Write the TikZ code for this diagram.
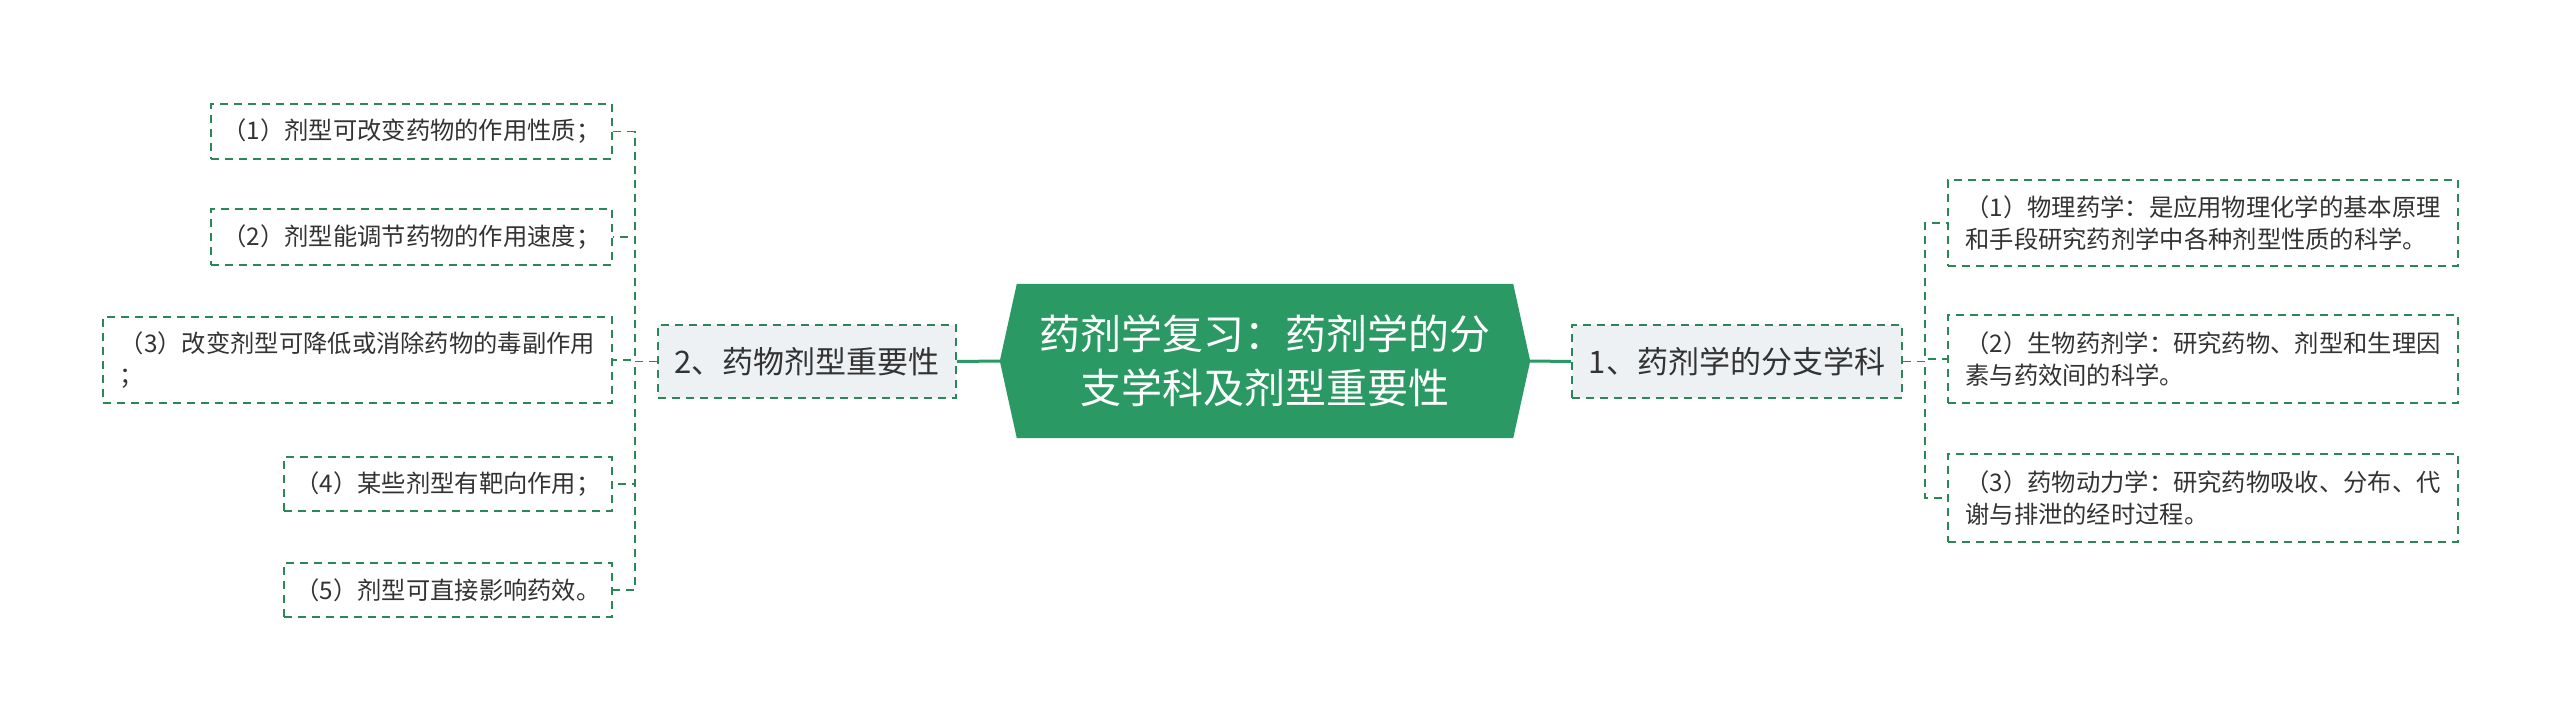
\documentclass[tikz,border=0pt]{standalone}
\usepackage{fontspec}
\setmainfont{Noto Sans CJK SC}
\usetikzlibrary{calc,backgrounds}
\definecolor{mgreen}{HTML}{2B9963}
\definecolor{lgreen}{HTML}{2B8757}
\definecolor{nodefill}{HTML}{EEF1F4}
\definecolor{txt}{HTML}{333333}
\begin{document}
\begin{tikzpicture}[x=1pt,y=-1pt,
  leaf/.style={draw=lgreen, line width=1.7pt, dash pattern=on 8pt off 6pt, text=txt,
    font=\fontsize{24.3}{32}\selectfont, inner sep=0pt, align=left},
  sub/.style={leaf, fill=nodefill, font=\fontsize{31}{36}\selectfont},
  link/.style={draw=lgreen, line width=1.7pt, dash pattern=on 8pt off 6pt},
  mainlink/.style={draw=mgreen, line width=3pt},
  centre/.style={text=white, font=\fontsize{41}{54}\selectfont, align=center,
    minimum width=530pt, minimum height=154pt, inner sep=0pt}]

\useasboundingbox (0,0) rectangle (2560,723);

% central topic
\node[centre] (c) at (1265,361) {药剂学复习：药剂学的分\\支学科及剂型重要性};
\begin{scope}[on background layer]
  \fill[white] (0,0) rectangle (2560,723);
  \fill[mgreen] (c.west) -- ($(c.north west)+(17,0)$) -- ($(c.north east)+(-17,0)$)
    -- (c.east) -- ($(c.south east)+(-17,0)$) -- ($(c.south west)+(17,0)$) -- cycle;
\end{scope}

% main branches
\node[sub, minimum width=330pt, minimum height=73pt] (r) at (1737,361.5) {1、药剂学的分支学科};
\node[sub, minimum width=298pt, minimum height=73pt] (l) at (807,361.5) {2、药物剂型重要性};

% right leaves
\node[leaf, minimum width=510pt, minimum height=86pt] (r1) at (2203,223)
  {（1）物理药学：是应用物理化学的基本原理\\和手段研究药剂学中各种剂型性质的科学。};
\node[leaf, minimum width=510pt, minimum height=88pt] (r2) at (2203,359)
  {（2）生物药剂学：研究药物、剂型和生理因\\素与药效间的科学。};
\node[leaf, minimum width=510pt, minimum height=88pt] (r3) at (2203,498)
  {（3）药物动力学：研究药物吸收、分布、代\\谢与排泄的经时过程。};

% left leaves
\node[leaf, minimum width=401pt, minimum height=55pt] (l1) at (411.5,131.5) {（1）剂型可改变药物的作用性质；};
\node[leaf, minimum width=401pt, minimum height=56pt] (l2) at (411.5,237) {（2）剂型能调节药物的作用速度；};
\node[leaf, minimum width=509pt, minimum height=86pt] (l3) at (357.5,360) {（3）改变剂型可降低或消除药物的毒副作用\\；};
\node[leaf, minimum width=328pt, minimum height=54pt] (l4) at (448,484) {（4）某些剂型有靶向作用；};
\node[leaf, minimum width=328pt, minimum height=54pt] (l5) at (448,590) {（5）剂型可直接影响药效。};

% connectors
\draw[mainlink] (c.east) -- (r.west);
\draw[mainlink] (c.west) -- (l.east);

\coordinate (rb) at (1925,361.5);
\foreach \n in {r1,r2,r3} \draw[link] (r.east) -- (rb) |- (\n.west);

\coordinate (lb) at (635,361.5);
\foreach \n in {l1,l2,l3,l4,l5} \draw[link] (l.west) -- (lb) |- (\n.east);
\end{tikzpicture}
\end{document}
